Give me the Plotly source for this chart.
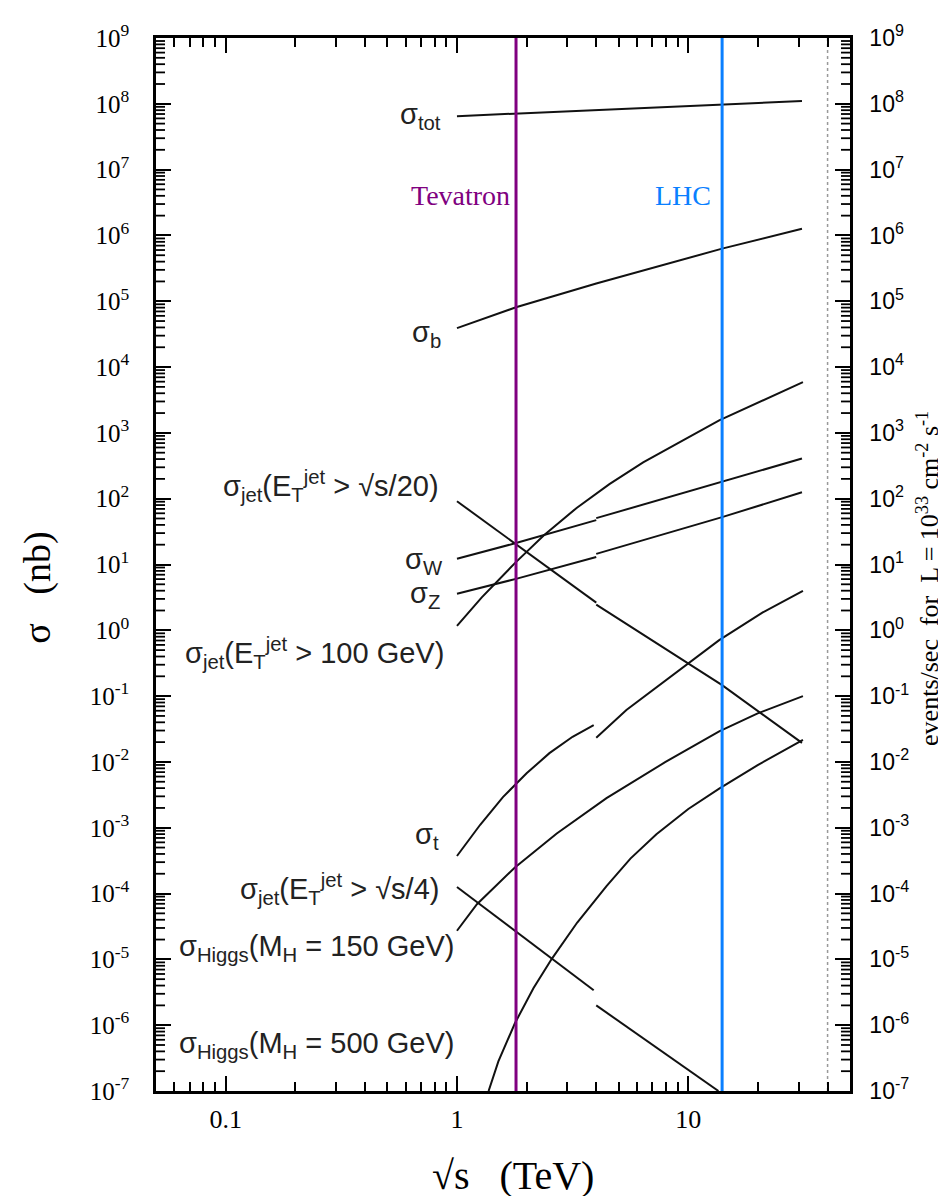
import math
import plotly.graph_objects as go

# ---------------- data (sqrt(s) in TeV, sigma in nb) ----------------
tot_x = [1, 1.8, 4, 14, 31]
tot_y = [6.5e7, 7.1e7, 8.1e7, 9.7e7, 1.1e8]

b_x = [1, 1.8, 4, 14, 31]
b_y = [3.9e4, 8.1e4, 1.86e5, 6.3e5, 1.26e6]

w_ppbar_x = [1, 1.8, 4]
w_ppbar_y = [12.2, 21.2, 47.2]
w_pp_x = [4, 14, 31]
w_pp_y = [50.6, 183, 407]

z_ppbar_x = [1, 1.8, 4]
z_ppbar_y = [3.6, 6.05, 13.0]
z_pp_x = [4, 14, 31]
z_pp_y = [14.5, 52.4, 125]

jet20_ppbar_x = [1, 1.8, 4]
jet20_ppbar_y = [91.4, 20.5, 2.63]
jet20_pp_x = [4, 14, 31]
jet20_pp_y = [2.45, 0.147, 0.0195]

jet100_x = [1, 1.28, 1.78, 2.37, 3.29, 4.56, 6.38, 13.6, 31.3]
jet100_y = [1.17, 3.16, 10.5, 27.5, 72.4, 166, 355, 1549, 5888]

top_ppbar_x = [1, 1.26, 1.58, 2.0, 2.51, 3.16, 3.9]
top_ppbar_y = [3.72e-4, 1.11e-3, 2.92e-3, 6.71e-3, 1.36e-2, 2.41e-2, 3.63e-2]
top_pp_x = [4.0, 5.4, 13.6, 20.9, 31.3]
top_pp_y = [0.0234, 0.0617, 0.71, 1.86, 3.98]

jet4_ppbar_x = [1, 1.78, 3.9]
jet4_ppbar_y = [1.26e-4, 2.75e-5, 3.39e-6]
jet4_pp_x = [4.0, 13.5]
jet4_pp_y = [2.0e-6, 1.0e-7]

h150_x = [1, 1.22, 1.78, 2.70, 4.43, 7.94, 13.6, 19.95, 31.3]
h150_y = [2.72e-5, 6.90e-5, 2.49e-4, 8.18e-4, 2.82e-3, 9.91e-3, 2.91e-2, 5.47e-2, 1.0e-1]

h500_x = [1.37, 1.51, 1.78, 2.14, 2.57, 3.31, 4.43, 5.62, 7.28, 10, 13.6, 19.95, 31.3]
h500_y = [1.0e-7, 2.82e-7, 1.07e-6, 3.63e-6, 1.02e-5, 3.63e-5, 1.30e-4,
          3.40e-4, 7.94e-4, 1.93e-3, 3.94e-3, 8.95e-3, 2.16e-2]

segments = [
    (tot_x, tot_y), (b_x, b_y),
    (w_ppbar_x, w_ppbar_y), (w_pp_x, w_pp_y),
    (z_ppbar_x, z_ppbar_y), (z_pp_x, z_pp_y),
    (jet20_ppbar_x, jet20_ppbar_y), (jet20_pp_x, jet20_pp_y),
    (jet100_x, jet100_y),
    (top_ppbar_x, top_ppbar_y), (top_pp_x, top_pp_y),
    (jet4_ppbar_x, jet4_ppbar_y), (jet4_pp_x, jet4_pp_y),
    (h150_x, h150_y), (h500_x, h500_y),
]

curve_labels = [
    "σ<sub>tot</sub>",
    "σ<sub>b</sub>",
    "σ<sub>jet</sub>(E<sub>T</sub><sup>jet</sup> > √s/20)",
    "σ<sub>W</sub>",
    "σ<sub>Z</sub>",
    "σ<sub>jet</sub>(E<sub>T</sub><sup>jet</sup> > 100 GeV)",
    "σ<sub>t</sub>",
    "σ<sub>jet</sub>(E<sub>T</sub><sup>jet</sup> > √s/4)",
    "σ<sub>Higgs</sub>(M<sub>H</sub> = 150 GeV)",
    "σ<sub>Higgs</sub>(M<sub>H</sub> = 500 GeV)",
]
# label anchor heights (nb) and horizontal offsets (px)
label_y = [6.5e7, 3.2e4, 158, 11.2, 3.4, 0.447, 7.4e-4, 1.17e-4, 1.48e-5, 5.0e-7]
label_dx = [-14, -14, -16, -12, -15, -11, -16, -16, -1, -1]

colliders = ["Tevatron", "LHC"]
collider_energy = [1.8, 14]
collider_colors = ["#800080", "#0a7fff"]
collider_dx = [-4, -9]
ssc_energy = 40

major_exp = list(range(-7, 10))
y_major = [10.0 ** p for p in major_exp]
y_major_text = ["10<sup>%d</sup>" % p for p in major_exp]
x_tick_vals = [0.1, 1, 10]
x_tick_text = ["0.1", "1", "10"]

X_RANGE = [0.05, 50]
Y_RANGE = [1e-7, 1e9]

# minor tick positions (2..9 of each decade)
y_minor = [k * 10.0 ** p for p in range(-7, 9) for k in range(2, 10)]
x_minor = [k * 10.0 ** p for p in range(-2, 2) for k in range(2, 10)
           if X_RANGE[0] <= k * 10.0 ** p <= X_RANGE[1]]

SERIF = "Liberation Serif, Times New Roman, serif"
SANS = "Liberation Sans, Arial, Helvetica, sans-serif"

W, H = 946, 1196
M_L, M_R, M_T, M_B = 148, 104, 24, 113
PLOT_W = W - M_L - M_R
MINOR_LEN = 9

fig = go.Figure()

for xs, ys in segments:
    fig.add_trace(go.Scatter(x=xs, y=ys, mode="lines",
                             line=dict(color="#111111", width=2),
                             hoverinfo="skip", showlegend=False))

for name, e, c, dx in zip(colliders, collider_energy, collider_colors, collider_dx):
    fig.add_trace(go.Scatter(x=[e, e], y=Y_RANGE, mode="lines",
                             line=dict(color=c, width=3),
                             hoverinfo="skip", showlegend=False))
    fig.add_annotation(x=math.log10(e), y=math.log10(4e6), xref="x", yref="y",
                       text=name, showarrow=False, xanchor="right",
                       yanchor="middle", xshift=dx,
                       font=dict(family=SERIF, size=28, color=c))

fig.add_trace(go.Scatter(x=[ssc_energy, ssc_energy], y=Y_RANGE, mode="lines",
                         line=dict(color="#999999", width=1.5, dash="dot"),
                         hoverinfo="skip", showlegend=False))

# helper so the right axis is drawn
fig.add_trace(go.Scatter(x=[1], y=[1], yaxis="y2", mode="markers",
                         marker=dict(opacity=0), hoverinfo="skip",
                         showlegend=False))

# minor ticks of both vertical axes, drawn on a hidden pixel-scaled x axis
tick_x, tick_y = [], []
for v in y_minor:
    tick_x += [0, MINOR_LEN, None, PLOT_W - MINOR_LEN, PLOT_W, None]
    tick_y += [v, v, None, v, v, None]
fig.add_trace(go.Scatter(x=tick_x, y=tick_y, xaxis="x2", yaxis="y",
                         mode="lines", connectgaps=False,
                         line=dict(color="black", width=1.8),
                         hoverinfo="skip", showlegend=False))

for txt, ly, dx in zip(curve_labels, label_y, label_dx):
    fig.add_annotation(x=0, y=math.log10(ly), xref="x", yref="y", text=txt,
                       showarrow=False, xanchor="right", yanchor="middle",
                       xshift=dx, font=dict(family=SANS, size=29, color="#222222"))

Y_LOG_RANGE = [math.log10(Y_RANGE[0]), math.log10(Y_RANGE[1])]

y_common = dict(type="log", range=Y_LOG_RANGE, showgrid=False, zeroline=False,
                tickmode="array", tickvals=y_major, ticktext=y_major_text,
                ticks="inside", ticklen=15, tickwidth=2, tickcolor="black",
                showline=True, linecolor="black", linewidth=2.5)

fig.update_layout(
    width=W, height=H,
    margin=dict(l=M_L, r=M_R, t=M_T, b=M_B),
    paper_bgcolor="white", plot_bgcolor="white",
    showlegend=False,
    xaxis=dict(type="log", showgrid=False, zeroline=False, showline=True,
               linecolor="black", linewidth=2.5, ticks="inside", ticklen=15,
               tickwidth=2, tickcolor="black",
               minor=dict(tickmode="array", tickvals=x_minor, ticks="inside",
                          ticklen=MINOR_LEN, tickwidth=1.8, tickcolor="black",
                          showgrid=False),
               range=[math.log10(X_RANGE[0]), math.log10(X_RANGE[1])],
               tickmode="array", tickvals=x_tick_vals, ticktext=x_tick_text,
               tickfont=dict(family=SERIF, size=26, color="black"),
               mirror="ticks", ticklabelstandoff=3),
    xaxis2=dict(overlaying="x", range=[0, PLOT_W], visible=False,
                showgrid=False, zeroline=False),
    yaxis=dict(y_common, tickfont=dict(family=SERIF, size=25, color="black"),
               ticklabelstandoff=19),
    yaxis2=dict(y_common, overlaying="y", side="right",
                tickfont=dict(family=SANS, size=23, color="black"),
                ticklabelstandoff=12),
)

# axis titles
fig.add_annotation(x=-0.17, y=0.478, xref="paper", yref="paper",
                   xanchor="center", yanchor="middle",
                   text="σ\u00a0\u00a0\u00a0(nb)", textangle=-90, showarrow=False,
                   font=dict(family=SERIF, size=38, color="black"))
fig.add_annotation(x=1.112, y=0.487, xref="paper", yref="paper",
                   xanchor="center", yanchor="middle",
                   text="events/sec\u00a0\u00a0for\u00a0\u00a0L = 10<sup>33</sup> cm<sup>-2</sup> s<sup>-1</sup>",
                   textangle=-90, showarrow=False,
                   font=dict(family=SERIF, size=26, color="black"))
fig.add_annotation(x=0.514, y=-0.08, xref="paper", yref="paper",
                   xanchor="center", yanchor="middle",
                   text="√s\u00a0\u00a0\u00a0(TeV)", showarrow=False,
                   font=dict(family=SERIF, size=40, color="black"))

fig.write_html("out.html")
